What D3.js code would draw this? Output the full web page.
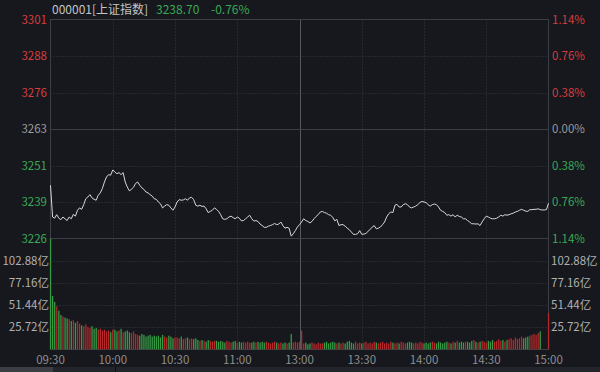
<!DOCTYPE html>
<html>
<head>
<meta charset="utf-8">
<style>
  html, body { margin: 0; padding: 0; background: #16181d; }
  svg { display: block; }
  text { font-family: "Noto Sans CJK SC", "Open Sans", sans-serif; }
</style>
</head>
<body>
<svg id="chart" width="600" height="372"></svg>
<script src="https://d3js.org/d3.v7.min.js"></script>
<script>
// header
var code = "000001[上证指数]";
var lastPrice = "3238.70";
var lastChange = "-0.76%";

// previous close and price axis steps (percent of prev close)
var prevClose = 3263.2;
var pctSteps = [0.0114, 0.0076, 0.0038, 0, -0.0038, -0.0076, -0.0114];
var priceTickLabels = ["3301", "3288", "3276", "3263", "3251", "3239", "3226"];
var pctTickLabels = ["1.14%", "0.76%", "0.38%", "0.00%", "0.38%", "0.76%", "1.14%"];

// volume axis (亿)
var volMax = 128.6;
var volTickValues = [102.88, 77.16, 51.44, 25.72];

// time axis, minute index from 09:30
var timeTicks = [0, 30, 60, 90, 120, 150, 180, 210, 240];
var timeLabels = ["09:30", "10:00", "10:30", "11:00", "13:00", "13:30", "14:00", "14:30", "15:00"];

// minute prices 09:30 - 11:30
var morningPrices = [
  3244.1, 3233.3, 3232.9, 3234.1, 3232.9, 3232.4, 3233.3, 3232.7, 3232.1, 3233.3,
  3232.7, 3234.2, 3233.6, 3235.6, 3236.4, 3235.9, 3237.5, 3239.5, 3240.1, 3240.9,
  3239.8, 3239.3, 3239.0, 3240.7, 3241.5, 3243.0, 3245.2, 3246.9, 3247.7, 3247.5,
  3249.3, 3248.6, 3248.0, 3248.4, 3247.7, 3248.4,
  3245.2, 3243.5, 3242.2, 3242.7, 3243.4, 3244.7, 3245.2, 3244.1, 3243.2, 3242.7, 3241.8,
  3241.5, 3240.9, 3240.4, 3239.5, 3239.3, 3238.4, 3237.8, 3236.4, 3237.0, 3237.5,
  3237.3, 3236.4, 3235.6, 3236.7, 3238.4, 3239.2, 3239.0, 3239.1, 3239.5,
  3239.0, 3239.8, 3240.0, 3239.2, 3237.3, 3237.0, 3237.3, 3236.9, 3237.0, 3236.1,
  3234.8, 3235.2, 3235.6, 3236.4, 3235.9, 3235.2, 3234.1, 3232.7, 3232.5, 3232.7,
  3233.3, 3233.6, 3233.1, 3232.7, 3233.3, 3232.9, 3232.0, 3232.1, 3232.7, 3233.3,
  3233.9, 3232.7, 3231.9, 3232.1, 3231.8, 3230.9, 3230.4, 3229.8, 3229.8,
  3230.2, 3230.4, 3230.7, 3231.1, 3230.7, 3230.9, 3231.6, 3230.4, 3229.5, 3229.8,
  3229.5, 3226.8, 3227.6, 3228.7, 3229.9, 3230.7
];
// minute prices 13:01 - 15:00
var afternoonPrices = [
  3231.6, 3232.7, 3232.1, 3231.8, 3231.3, 3231.8, 3232.7, 3233.5,
  3234.1, 3235.0, 3235.2, 3234.8, 3234.6, 3234.1, 3233.9, 3233.2, 3232.0, 3232.5,
  3230.4, 3230.7, 3230.7, 3230.2, 3229.5, 3229.0, 3228.2, 3227.4, 3227.4,
  3227.6, 3228.7, 3227.4, 3227.5, 3227.7, 3228.4, 3229.1, 3229.8,
  3230.4, 3229.3, 3229.5, 3229.9, 3230.7, 3231.6, 3233.3, 3234.4, 3235.0, 3234.8,
  3237.3, 3237.6, 3236.7, 3236.7, 3237.5, 3237.8, 3237.5, 3236.7, 3236.4, 3236.7,
  3237.0, 3237.5, 3238.2, 3238.6, 3238.4, 3238.2, 3237.5, 3237.0, 3237.5,
  3237.7, 3237.5, 3236.7, 3235.6, 3235.2, 3234.8, 3233.9, 3234.1, 3233.6,
  3234.1, 3233.3, 3233.9, 3233.5, 3233.3, 3232.7, 3232.7, 3232.1, 3231.6, 3231.0,
  3231.0, 3230.9, 3231.0, 3230.4, 3231.6, 3232.7, 3233.6, 3233.3, 3232.9, 3232.7,
  3232.7, 3232.9, 3233.3, 3233.9, 3233.6, 3234.1, 3233.9, 3234.1, 3234.4, 3234.6,
  3235.0, 3235.2, 3235.6, 3235.9, 3235.6, 3235.3, 3235.2, 3235.8, 3235.8, 3235.9,
  3235.9, 3236.1, 3235.8, 3235.7, 3235.7, 3235.8, 3238.0
];
var prices = morningPrices.concat(afternoonPrices);

// minute volume (亿)
var volumes = [
  135,
  62, 55, 50, 45, 40, 38, 37, 36, 35, 33,
  34, 31, 33, 30, 28, 27, 29, 26, 25, 27,
  24, 25, 23, 24, 22, 23, 21, 22, 20, 23,
  23, 21, 22, 24, 20, 21, 22, 20, 19, 21,
  18, 17, 16, 18, 17, 15, 16, 17, 15, 16,
  15, 16, 14, 17, 15, 14, 16, 15, 13, 14,
  14, 13, 15, 12, 13, 14, 12, 13, 12, 13,
  11, 10, 11, 10, 9, 11, 10, 9, 10, 10,
  9, 10, 9, 8, 10, 9, 8, 9, 10, 8,
  9, 8, 9, 8, 9, 8, 8, 9, 8, 9,
  8, 9, 8, 9, 8, 7, 8, 9, 8, 7,
  8, 7, 8, 7, 8, 18, 8, 9, 8, 9,
  22,
  7, 8, 6, 7, 8, 7, 6, 8, 7,
  7, 8, 9, 7, 8, 9, 8, 7, 8, 7,
  8, 7, 9, 10, 8, 7, 9, 7, 8, 7,
  8, 9, 7, 8, 7, 9, 8, 7, 8, 9,
  7, 8, 7, 9, 8, 7, 8, 7, 9, 8,
  7, 8, 9, 8, 7, 8, 7, 9, 8, 7,
  8, 7, 8, 9, 8, 7, 9, 8, 7, 8,
  9, 8, 7, 9, 8, 10, 8, 9, 8, 9,
  9, 8, 10, 11, 9, 8, 9, 10, 9, 8,
  10, 9, 11, 9, 10, 12, 10, 11, 9, 11,
  12, 13, 11, 14, 12, 13, 15, 13, 14, 15,
  16, 17, 18, 17, 19, 21, 0, 0, 0, 42
];

var red = "#d63c3e", green = "#3aa857", grey = "#9a9a9a";
var barRed = "#b3292c", barGreen = "#379a45";
var borderColor = "#3b3e45", gridColor = "#363940";

var svg = d3.select("#chart");

var x = d3.scaleLinear().domain([0, 240]).range([50.5, 548.5]);
var y = d3.scaleLinear()
  .domain([prevClose * (1 - 0.0114), prevClose * (1 + 0.0114)])
  .range([238.5, 19.5]);
var yv = d3.scaleLinear().domain([0, volMax]).range([349.5, 238.5]);

// dotted horizontal grid
pctSteps.forEach(function(p, i) {
  if (i == 0 || i == 3 || i == 6) return;
  svg.append("line")
    .attr("x1", x(0)).attr("x2", x(240))
    .attr("y1", Math.round(y(prevClose * (1 + p))) + 0.5)
    .attr("y2", Math.round(y(prevClose * (1 + p))) + 0.5)
    .attr("stroke", gridColor).attr("stroke-dasharray", "1,2");
});
volTickValues.forEach(function(v) {
  svg.append("line")
    .attr("x1", x(0)).attr("x2", x(240))
    .attr("y1", Math.round(yv(v)) + 0.5).attr("y2", Math.round(yv(v)) + 0.5)
    .attr("stroke", gridColor).attr("stroke-dasharray", "1,2");
});

// vertical grid
timeTicks.forEach(function(t) {
  if (t == 0 || t == 240) return;
  var xx = Math.round(x(t)) + 0.5;
  svg.append("line")
    .attr("x1", xx).attr("x2", xx)
    .attr("y1", y.range()[1]).attr("y2", yv.range()[0])
    .attr("stroke", t == 120 ? "#55585f" : gridColor)
    .attr("stroke-dasharray", t == 120 ? null : "1,2");
});

// solid lines: prev close, separator, borders
svg.append("line")
  .attr("x1", x(0)).attr("x2", x(240))
  .attr("y1", Math.round(y(prevClose)) + 0.5).attr("y2", Math.round(y(prevClose)) + 0.5)
  .attr("stroke", borderColor);
svg.append("line")
  .attr("x1", x(0)).attr("x2", x(240))
  .attr("y1", y.range()[0]).attr("y2", y.range()[0])
  .attr("stroke", borderColor);
svg.append("rect")
  .attr("x", x(0)).attr("y", y.range()[1])
  .attr("width", x(240) - x(0)).attr("height", yv.range()[0] - y.range()[1])
  .attr("fill", "none").attr("stroke", borderColor);

// volume bars
svg.append("clipPath").attr("id", "volclip")
  .append("rect")
  .attr("x", 0).attr("y", yv.range()[1])
  .attr("width", 600).attr("height", yv.range()[0] - yv.range()[1]);

svg.append("g").attr("clip-path", "url(#volclip)")
  .selectAll("rect")
  .data(volumes)
  .join("rect")
  .attr("x", function(d, i) { return x(i) - 0.6; })
  .attr("width", 1.3)
  .attr("y", function(d) { return yv(d); })
  .attr("height", function(d) { return yv(0) - yv(d); })
  .attr("fill", function(d, i) {
    var before = i == 0 ? prevClose : prices[i - 1];
    return prices[i] >= before ? barRed : barGreen;
  });

// price line
var line = d3.line()
  .x(function(d, i) { return x(i); })
  .y(function(d) { return y(d); });

svg.append("path")
  .datum(prices)
  .attr("d", line)
  .attr("fill", "none")
  .attr("stroke", "#d8d8d8")
  .attr("stroke-width", 1);

// price labels
pctSteps.forEach(function(p, i) {
  var c = p > 0 ? red : (p < 0 ? green : grey);
  var yy = y(prevClose * (1 + p));
  svg.append("text")
    .attr("x", 47).attr("y", yy).attr("dy", "0.35em")
    .attr("text-anchor", "end")
    .attr("font-size", "11.5px").attr("fill", c)
    .text(priceTickLabels[i]);
  svg.append("text")
    .attr("x", 552).attr("y", yy).attr("dy", "0.35em")
    .attr("font-size", "11.5px").attr("fill", c)
    .text(pctTickLabels[i]);
});

// volume labels
volTickValues.forEach(function(v) {
  var label = d3.format(".2f")(v) + "亿";
  svg.append("text")
    .attr("x", 49).attr("y", yv(v)).attr("dy", "0.35em")
    .attr("text-anchor", "end")
    .attr("font-size", "11.5px").attr("fill", "#b0b0b0")
    .text(label);
  svg.append("text")
    .attr("x", 551).attr("y", yv(v)).attr("dy", "0.35em")
    .attr("font-size", "11.5px").attr("fill", "#b0b0b0")
    .text(label);
});

// time labels
timeTicks.forEach(function(t, i) {
  svg.append("text")
    .attr("x", x(t)).attr("y", 360).attr("dy", "0.35em")
    .attr("text-anchor", "middle")
    .attr("font-size", "11.5px").attr("fill", "#8e8e8e")
    .text(timeLabels[i]);
});

// header
svg.append("text").attr("x", 52).attr("y", 14)
  .attr("font-size", "12px").attr("fill", "#c4c4c4").text(code);
svg.append("text").attr("x", 156).attr("y", 14)
  .attr("font-size", "12px").attr("fill", green).text(lastPrice);
svg.append("text").attr("x", 211).attr("y", 14)
  .attr("font-size", "12px").attr("fill", green).text(lastChange);

// bottom scroll strip
svg.append("rect").attr("x", 0).attr("y", 367).attr("width", 600).attr("height", 5)
  .attr("fill", "#23252a");
svg.append("rect").attr("x", 0).attr("y", 367).attr("width", 53).attr("height", 5)
  .attr("fill", "#3c3e44");
svg.append("line").attr("x1", 115.5).attr("x2", 115.5).attr("y1", 367).attr("y2", 372)
  .attr("stroke", "#0e0f12");
</script>
</body>
</html>
